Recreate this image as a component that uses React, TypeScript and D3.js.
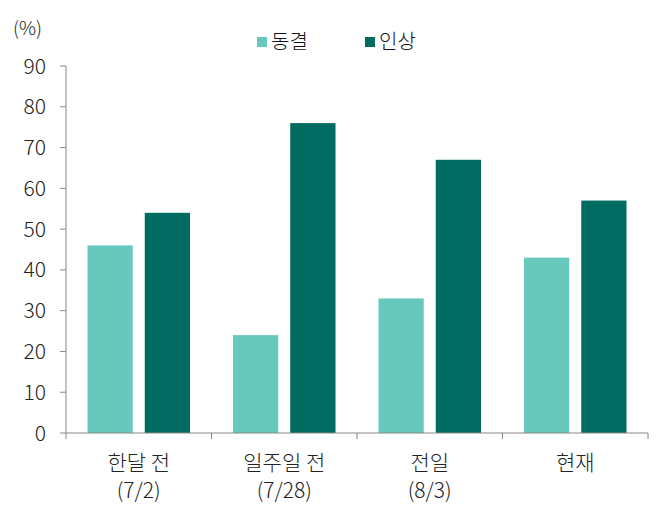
import React from "react";
import * as d3 from "d3";

const categories = ["한달 전|(7/2)", "일주일 전|(7/28)", "전일|(8/3)", "현재"];
const seriesNames = ["동결", "인상"];
const freezeValues = [46, 24, 33, 43];
const hikeValues = [54, 76, 67, 57];
const yTicks = [0, 10, 20, 30, 40, 50, 60, 70, 80, 90];
const colors = ["#66C9BC", "#006B60"];

const W = 661, H = 506;
const left = 66, right = 648, top = 66, bottom = 433;
const font = "'Noto Sans CJK KR', 'Noto Sans', sans-serif";

export default function App() {
  const x = d3.scaleBand<string>().domain(categories).range([left, right]).paddingInner(0).paddingOuter(0);
  const inner = d3.scaleBand<string>().domain(seriesNames).range([21.5, x.bandwidth() - 21.5]).paddingInner(0.21).paddingOuter(0);
  const y = d3.scaleLinear().domain([0, 90]).range([bottom, top]);
  const series = [freezeValues, hikeValues];
  const boundaries = [...categories.map((c) => x(c) as number), right];

  return (
    <svg width={W} height={H} style={{ position: "absolute", left: 0, top: 0 }}>
      <rect width={W} height={H} fill="#fff" />
      {/* legend */}
      {seriesNames.map((s, i) => {
        const lx = [257, 365][i];
        return (
          <g key={s}>
            <rect x={lx} y={37} width={10} height={10} fill={colors[i]} />
            <text x={lx + 14} y={49} fontFamily={font} fontSize={20} fontWeight={300} fill="#111">{s}</text>
          </g>
        );
      })}
      <text x={13} y={35} fontFamily={font} fontSize={19} fontWeight={300} fill="#222">(%)</text>
      {/* bars */}
      {categories.map((c, ci) =>
        seriesNames.map((s, si) => {
          const v = series[si][ci];
          return (
            <rect key={c + s} x={(x(c) as number) + (inner(s) as number)} y={y(v)} width={inner.bandwidth()} height={bottom - y(v)} fill={colors[si]} />
          );
        })
      )}
      {/* y axis */}
      <line x1={left} x2={left} y1={top} y2={bottom} stroke="#888" strokeWidth={1} />
      {yTicks.map((t) => (
        <g key={t}>
          <line x1={left - 6} x2={left} y1={y(t)} y2={y(t)} stroke="#888" />
          <text x={46} y={y(t)} dy="0.36em" textAnchor="end" fontFamily={font} fontSize={21} fontWeight={300} fill="#222">{t}</text>
        </g>
      ))}
      {/* x axis */}
      <line x1={left} x2={right} y1={bottom} y2={bottom} stroke="#888" />
      {boundaries.map((b, i) => (
        <line key={i} x1={b} x2={b} y1={bottom} y2={bottom + 6} stroke="#888" />
      ))}
      {categories.map((c) => {
        const cx = (x(c) as number) + x.bandwidth() / 2;
        const lines = c.split("|");
        return (
          <text key={c} x={cx} textAnchor="middle" fontFamily={font} fontSize={21} fontWeight={300} fill="#222">
            {lines.map((l, i) => (
              <tspan key={i} x={cx} y={470 + i * 28}>{l}</tspan>
            ))}
          </text>
        );
      })}
    </svg>
  );
}
